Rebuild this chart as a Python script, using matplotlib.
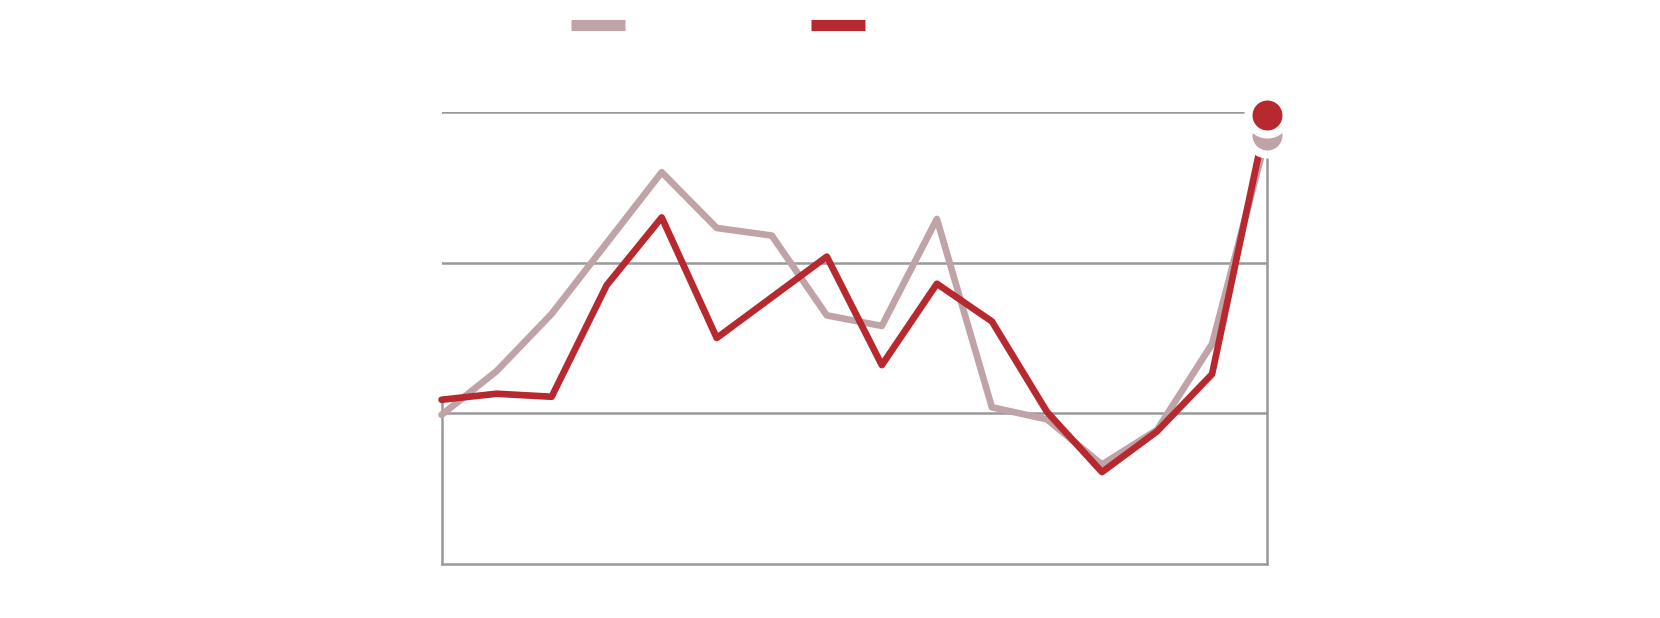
import numpy as np
import matplotlib
matplotlib.use('Agg')
from matplotlib import pyplot as plt
from matplotlib.lines import Line2D

# values (no labels shown in the original)
periods = list(range(16))
series_a = [0.99, 1.28, 1.66, 2.13, 2.60, 2.23, 2.18, 1.65, 1.58, 2.29,
            1.04, 0.96, 0.66, 0.89, 1.46, 2.85]
series_b = [1.09, 1.13, 1.11, 1.85, 2.30, 1.50, 1.77, 2.04, 1.32, 1.86,
            1.61, 1.01, 0.61, 0.88, 1.26, 2.98]
grid_levels = [1, 2, 3]

pink = '#bfa3a6'
red = '#b7282f'
grey = '#999999'

fig = plt.figure(figsize=(16.6, 6.18), dpi=100)
ax = fig.add_axes([0.266, 0.0874, 0.4973, 0.7314])
ax.set_xlim(0, 15)
ax.set_ylim(0, 3)

for lvl in grid_levels:
    ax.axhline(lvl, color=grey, lw=1.8, zorder=1)

lw = 4.8
ax.plot(periods, series_a, color=pink, lw=lw, solid_joinstyle='round',
        solid_capstyle='round', zorder=3, clip_on=False)
ax.plot(periods, series_b, color=red, lw=lw, solid_joinstyle='round',
        solid_capstyle='round', zorder=4, clip_on=False)

# end markers with a wide white halo
ax.plot(periods[-1], series_a[-1], 'o', ms=27.4, mfc=pink, mec='white', mew=5.8,
        zorder=5, clip_on=False)
ax.plot(periods[-1], series_b[-1], 'o', ms=27.4, mfc=red, mec='white', mew=5.8,
        zorder=6, clip_on=False)

ax.spines['top'].set_visible(False)
for s in ['left', 'right', 'bottom']:
    ax.spines[s].set_color(grey)
    ax.spines[s].set_linewidth(1.8)
    ax.spines[s].set_zorder(1)
ax.spines['left'].set_bounds(0, series_b[0])
ax.spines['right'].set_bounds(0, 3)
ax.set_xticks([])
ax.set_yticks([])
ax.patch.set_visible(False)

handles = [Line2D([], [], color=pink, lw=8, solid_capstyle='butt'),
           Line2D([], [], color=red, lw=8, solid_capstyle='butt')]
fig.legend(handles, ['', ''], loc='center', bbox_to_anchor=(0.4325, 0.958),
           ncol=2, frameon=False, handlelength=3.9, handletextpad=0,
           columnspacing=13.4, borderpad=0, fontsize=10)

fig.savefig('out.png', dpi=100, facecolor='white')
